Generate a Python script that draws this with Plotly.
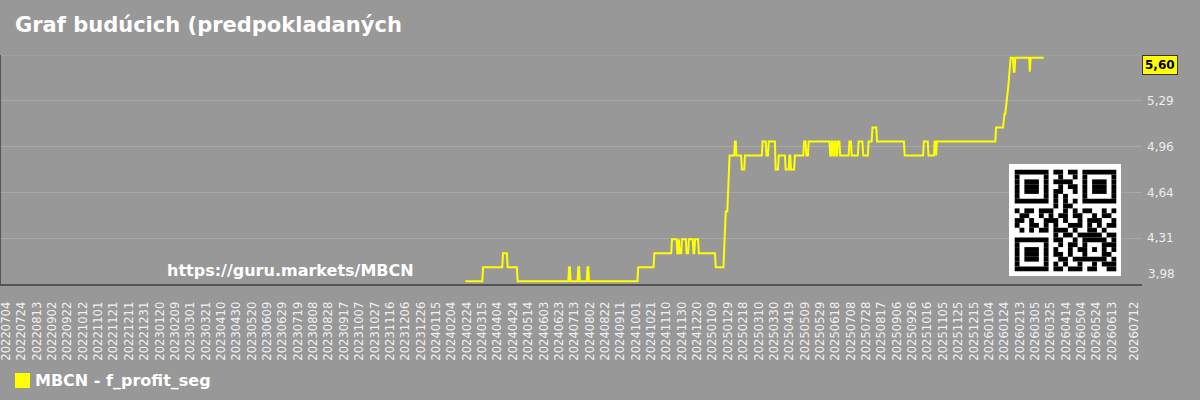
import plotly.graph_objects as go
import datetime as dt

# ---------------- data ----------------
dates = [
    "2024-02-22", "2024-03-15", "2024-03-16", "2024-04-10", "2024-04-11", "2024-04-16",
    "2024-04-17", "2024-04-29", "2024-04-30", "2024-07-05", "2024-07-06", "2024-07-07",
    "2024-07-08", "2024-07-17", "2024-07-18", "2024-07-19", "2024-07-20", "2024-07-29",
    "2024-07-30", "2024-07-31", "2024-08-01", "2024-10-03", "2024-10-04", "2024-10-24",
    "2024-10-25", "2024-11-16", "2024-11-17", "2024-11-23", "2024-11-24", "2024-11-25",
    "2024-11-26", "2024-11-27", "2024-11-29", "2024-11-30", "2024-12-05", "2024-12-06",
    "2024-12-08", "2024-12-09", "2024-12-14", "2024-12-15", "2024-12-16", "2024-12-17",
    "2024-12-21", "2024-12-22", "2025-01-12", "2025-01-13", "2025-01-23", "2025-01-26",
    "2025-01-28", "2025-01-31", "2025-02-06", "2025-02-07", "2025-02-08", "2025-02-09",
    "2025-02-15", "2025-02-16", "2025-02-19", "2025-02-20", "2025-03-14", "2025-03-15",
    "2025-03-19", "2025-03-20", "2025-03-22", "2025-03-23", "2025-03-31", "2025-04-01",
    "2025-04-04", "2025-04-05", "2025-04-13", "2025-04-14", "2025-04-18", "2025-04-19",
    "2025-04-20", "2025-04-21", "2025-04-25", "2025-04-26", "2025-05-07", "2025-05-08",
    "2025-05-10", "2025-05-11", "2025-05-13", "2025-05-14", "2025-06-10", "2025-06-11",
    "2025-06-12", "2025-06-13", "2025-06-14", "2025-06-15", "2025-06-16", "2025-06-17",
    "2025-06-18", "2025-06-19", "2025-06-20", "2025-06-21", "2025-06-23", "2025-06-24",
    "2025-07-05", "2025-07-06", "2025-07-08", "2025-07-09", "2025-07-17", "2025-07-18",
    "2025-07-23", "2025-07-24", "2025-07-30", "2025-07-31", "2025-08-04", "2025-08-05",
    "2025-08-10", "2025-08-11", "2025-09-15", "2025-09-16", "2025-10-10", "2025-10-11",
    "2025-10-16", "2025-10-17", "2025-10-24", "2025-10-25", "2025-10-26", "2025-10-27",
    "2025-10-28", "2026-01-12", "2026-01-13", "2026-01-22", "2026-01-24", "2026-01-25",
    "2026-01-27", "2026-01-29", "2026-02-01", "2026-02-04", "2026-02-05", "2026-02-06",
    "2026-02-07", "2026-02-25", "2026-02-26", "2026-02-27", "2026-03-16",
]
values = [
    4.0, 4.0, 4.1, 4.1, 4.2, 4.2,
    4.1, 4.1, 4.0, 4.0, 4.1, 4.1,
    4.0, 4.0, 4.1, 4.1, 4.0, 4.0,
    4.1, 4.1, 4.0, 4.0, 4.1, 4.1,
    4.2, 4.2, 4.3, 4.3, 4.2, 4.2,
    4.3, 4.2, 4.2, 4.3, 4.3, 4.2,
    4.2, 4.3, 4.3, 4.2, 4.2, 4.3,
    4.3, 4.2, 4.2, 4.1, 4.1, 4.5,
    4.5, 4.9, 4.9, 5.0, 5.0, 4.9,
    4.9, 4.8, 4.8, 4.9, 4.9, 5.0,
    5.0, 4.9, 4.9, 5.0, 5.0, 4.8,
    4.8, 4.9, 4.9, 4.8, 4.8, 4.9,
    4.9, 4.8, 4.8, 4.9, 4.9, 5.0,
    5.0, 4.9, 4.9, 5.0, 5.0, 4.9,
    4.9, 5.0, 5.0, 4.9, 4.9, 5.0,
    5.0, 4.9, 4.9, 5.0, 5.0, 4.9,
    4.9, 5.0, 5.0, 4.9, 4.9, 5.0,
    5.0, 4.9, 4.9, 5.0, 5.0, 5.1,
    5.1, 5.0, 5.0, 4.9, 4.9, 5.0,
    5.0, 4.9, 4.9, 5.0, 5.0, 4.9,
    5.0, 5.0, 5.1, 5.1, 5.2, 5.2,
    5.3, 5.4, 5.6, 5.6, 5.5, 5.5,
    5.6, 5.6, 5.5, 5.6, 5.6,
]

series_name = "MBCN - f_profit_seg"
title_text = "Graf budúcich (predpokladaných"
watermark = "https://guru.markets/MBCN"

y_tick_vals = [4.308, 4.636, 4.964, 5.292]
y_tick_text = ["4,31", "4,64", "4,96", "5,29"]
y_min, y_max = 3.98, 5.62
last_label = "5,60"

x_tick_start = dt.date(2022, 7, 4)
x_tick_step_days = 20
x_tick_count = 73
x_tick_last = dt.date(2026, 7, 12)
x_range = ["2022-06-26", "2026-07-22"]

qr_rows = [
    "#######.##.##.#######",
    "#.....#..#..#.#.....#",
    "#.###.#.####..#.###.#",
    "#.###.#..#.##.#.###.#",
    "#.###.#.##..#.#.###.#",
    "#.....#.#.#...#.....#",
    "#######.#.#.#.#######",
    "........#.##.........",
    "#.##.###..#.#.##..#.#",
    ".##..#.#.##.##..#.##.",
    "##.#..###.#..#.###..#",
    "#..##.#.#..###.#.#.##",
    ".#.#.##.###.#..##.#..",
    "........#.##.#####.##",
    "#######.##..#.#####.#",
    "#.....#..#.##.#...###",
    "#.###.#.#..#.##.#.#.#",
    "#.###.#.##.#..#...##.",
    "#.###.#..##.#######.#",
    "#.....#.#.#..#..#.###",
    "#######.##.###.##..##",
]

# ---------------- figure ----------------
BG = "#989898"
W, H = 1200, 400
ML, MR, MT, MB = 0, 58, 55, 116
PW, PH = W - ML - MR, H - MT - MB

def px_to_paper(px, py):
    return (px - ML) / PW, (H - MB - py) / PH

tick_dates = [x_tick_start + dt.timedelta(days=x_tick_step_days * i) for i in range(x_tick_count)]
tick_dates.append(x_tick_last)
tick_vals = [d.isoformat() for d in tick_dates]
tick_text = [d.strftime("%Y%m%d") for d in tick_dates]

fig = go.Figure()
fig.add_trace(go.Scatter(
    x=dates, y=values, mode="lines", name=series_name,
    line=dict(color="#ffff00", width=2), showlegend=False,
))

shapes = []
annotations = []

# top gridline and left border
shapes.append(dict(type="line", xref="paper", yref="y", x0=0, x1=1, y0=y_max, y1=y_max,
                   line=dict(color="#a8a8a8", width=1), layer="below"))
shapes.append(dict(type="line", xref="paper", yref="paper", x0=0, x1=0, y0=0, y1=1,
                   line=dict(color="#555555", width=2)))

# QR code block
qx0, qy0, qx1, qy1 = 1009, 164, 1121, 276
a0, b1 = px_to_paper(qx0, qy0)
a1, b0 = px_to_paper(qx1, qy1)
shapes.append(dict(type="rect", xref="paper", yref="paper", x0=a0, x1=a1, y0=b0, y1=b1,
                   fillcolor="white", line=dict(width=0)))
n = len(qr_rows)
mx0, my0 = 1014.7, 169.7
m = 101.6 / n
for r, row in enumerate(qr_rows):
    c = 0
    while c < n:
        if row[c] == "#":
            c2 = c
            while c2 < n and row[c2] == "#":
                c2 += 1
            xa, yb = px_to_paper(mx0 + c * m, my0 + (r + 1) * m)
            xb, ya = px_to_paper(mx0 + c2 * m, my0 + r * m)
            shapes.append(dict(type="rect", xref="paper", yref="paper",
                               x0=xa, x1=xb, y0=yb, y1=ya,
                               fillcolor="black", line=dict(width=0)))
            c = c2
        else:
            c += 1

# legend (manual)
lx0, ly1 = px_to_paper(15, 373)
lx1, ly0 = px_to_paper(30, 388)
shapes.append(dict(type="rect", xref="paper", yref="paper", x0=lx0, x1=lx1, y0=ly0, y1=ly1,
                   fillcolor="#ffff00", line=dict(width=0)))
tx, ty = px_to_paper(33, 380.5)
annotations.append(dict(xref="paper", yref="paper", x=tx, y=ty, xanchor="left", yanchor="middle",
                        text="<b>" + series_name + "</b>", showarrow=False,
                        font=dict(family="DejaVu Sans", size=16, color="white")))

# watermark
wx, wy = px_to_paper(165, 270)
annotations.append(dict(xref="paper", yref="paper", x=wx, y=wy, xanchor="left", yanchor="middle",
                        text="<b>" + watermark + "</b>", showarrow=False,
                        font=dict(family="DejaVu Sans", size=16, color="white")))

# last value label
annotations.append(dict(xref="paper", yref="y", x=1, y=values[-1], xanchor="left", yanchor="top",
                        xshift=0, yshift=3, text="<b>" + last_label + "</b>", showarrow=False,
                        font=dict(family="DejaVu Sans", size=12, color="black"),
                        bgcolor="#ffff00", bordercolor="#333333", borderwidth=1, borderpad=2))

# bottom y label
annotations.append(dict(xref="paper", yref="y", x=1, y=y_min, xanchor="left", yanchor="bottom",
                        xshift=4, yshift=1, text="3,98", showarrow=False,
                        font=dict(family="DejaVu Sans", size=12, color="#eeeeee")))

fig.update_layout(
    width=W, height=H,
    margin=dict(l=ML, r=MR, t=MT, b=MB),
    paper_bgcolor=BG, plot_bgcolor=BG,
    title=dict(text="<b>" + title_text + "</b>", x=15 / W, xanchor="left",
               y=1 - 25 / H, yanchor="middle",
               font=dict(family="DejaVu Sans", size=21, color="white")),
    xaxis=dict(type="date", range=x_range, tickmode="array", tickvals=tick_vals,
               ticktext=tick_text, tickangle=-90, showgrid=False, zeroline=False,
               showline=True, linecolor="#555555", linewidth=2,
               ticks="outside", ticklen=11, tickcolor=BG, tickwidth=1,
               ticklabeloverflow="allow",
               tickfont=dict(family="DejaVu Sans", size=11.6, color="#f0f0f0")),
    yaxis=dict(range=[y_min, y_max], side="right", tickmode="array",
               tickvals=y_tick_vals, ticktext=y_tick_text, showgrid=True,
               gridcolor="#a8a8a8", gridwidth=1, zeroline=False, ticks="",
               ticklabelstandoff=4,
               tickfont=dict(family="DejaVu Sans", size=12, color="#eeeeee")),
    shapes=shapes, annotations=annotations,
    showlegend=False,
)

fig.write_html("out.html")
